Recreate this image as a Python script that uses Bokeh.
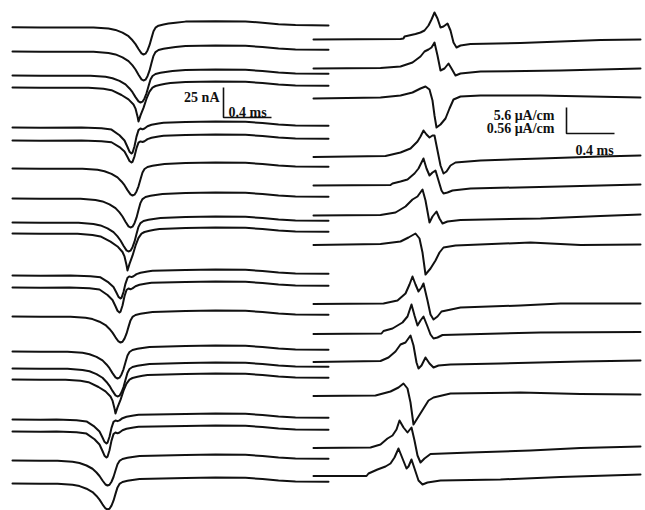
from bokeh.plotting import figure
from bokeh.models import Range1d
from bokeh.core.properties import value
from bokeh.embed import file_html
from bokeh.resources import INLINE

# ---------------- data ----------------
# time in samples (48 samples = 0.4 ms); amplitude in display units
# left panel: 25 nA = 30 units ; right panel: 5.6 uA/cm = 26 units
L_BASE = [26.7, 51, 75, 87, 127, 140, 168, 198, 222, 233,
          275, 287, 316, 351, 368, 379, 419, 431, 460, 483]
L_DIP_T = [143, 143, 140, 138, 131, 131, 132, 130, 128, 127,
           120, 119, 120, 117, 117, 115, 106, 106, 107, 107]
L_DIP_Y = [54, 80, 102, 121, 153, 162, 195, 227, 251, 270,
           298, 312, 342, 378, 396, 413, 443, 457, 485, 509]
L_SHAPE = ["plain", "plain", "plain", "shoulder", "notch", "notch", "plain", "plain", "plain", "shoulder",
           "notch", "notch", "plain", "plain", "plain", "shoulder", "notch", "notch", "plain", "plain"]
L_OVERSHOOT = 6.0
L_T0, L_T1 = 12, 328

# dip templates: offset (samples), depth fraction, overshoot fraction
TPL_DT = {
    "plain":    [-50, -35, -28, -21, -15, -11, -8, -5, -2, 0, 2, 4, 6, 8, 10, 12, 15, 20, 25, 32],
    "shoulder": [-50, -35, -27, -17, -10, -5, -3, -1, 0, 2, 5, 8, 11, 14, 17, 22, 27, 32],
    "notch":    [-50, -30, -20, -12, -7, -4, -2, 0, 1, 3, 5, 7, 9, 11, 13, 16, 20, 27, 32],
}
TPL_FRAC = {
    "plain":    [0.01, 0.05, 0.1, 0.2, 0.33, 0.48, 0.62, 0.8, 0.96, 1.0, 0.97, 0.85, 0.66, 0.4, 0.15, 0.04, 0, 0, 0, 0],
    "shoulder": [0.01, 0.04, 0.08, 0.22, 0.35, 0.5, 0.62, 0.85, 1.0, 0.82, 0.6, 0.33, 0.12, 0.02, 0, 0, 0, 0],
    "notch":    [0.0, 0.03, 0.08, 0.3, 0.5, 0.75, 0.93, 1.0, 0.97, 0.72, 0.35, 0.1, 0.04, 0.07, 0.06, 0.02, 0, 0, 0],
}
TPL_OVER = {
    "plain":    [0, 0, 0, 0, 0, 0, 0, 0, 0, 0, 0, 0, 0, 0, 0, 0.1, 0.25, 0.45, 0.6, 0.75],
    "shoulder": [0, 0, 0, 0, 0, 0, 0, 0, 0, 0, 0, 0, 0, 0.1, 0.25, 0.45, 0.62, 0.75],
    "notch":    [0, 0, 0, 0, 0, 0, 0, 0, 0, 0, 0, 0, 0, 0, 0.1, 0.3, 0.45, 0.65, 0.78],
}
TAIL_T = [185, 215, 245, 262, 278, 295, 328]
TAIL_OVER = [0.93, 1.0, 0.95, 0.75, 0.5, 0.35, 0.3]

# right panel traces (time in samples, amplitude in display units)
R_T = [
    [313, 400, 403, 404, 415, 420, 424, 428, 431, 434, 437, 440, 443, 447, 450, 453, 456, 460, 470, 520, 560, 600, 640],
    [313, 380, 400, 412, 420, 424, 428, 431, 434, 437, 440, 444, 448, 451, 455, 460, 480, 560, 640],
    [313, 380, 400, 412, 420, 425, 429, 432, 434, 436, 440, 445, 449, 453, 460, 480, 540, 640],
    [313, 385, 400, 410, 417, 420, 423, 426, 429, 432, 434, 437, 440, 443, 446, 450, 455, 480, 540, 600, 640],
    [313, 390, 392, 400, 407, 414, 418, 423, 426, 429, 432, 435, 438, 441, 443, 447, 452, 470, 560, 640],
    [313, 380, 395, 405, 412, 417, 422, 425, 429, 432, 436, 439, 442, 447, 460, 540, 600, 640],
    [313, 380, 400, 408, 415, 419, 422, 425, 430, 435, 439, 443, 455, 530, 580, 640],
    [313, 383, 397, 405, 409, 412, 415, 418, 421, 423, 427, 430, 433, 437, 441, 460, 520, 560, 640],
    [313, 381, 383, 392, 402, 407, 411, 414, 417, 420, 423, 427, 430, 433, 437, 442, 480, 540, 640],
    [313, 380, 388, 395, 400, 405, 410, 413, 416, 418, 421, 425, 429, 433, 438, 450, 500, 580, 640],
    [313, 375, 390, 398, 403, 407, 410, 413, 418, 423, 428, 433, 450, 520, 580, 640],
    [313, 370, 380, 387, 392, 396, 399, 403, 407, 411, 414, 417, 420, 424, 430, 470, 530, 580, 640],
    [313, 366, 368, 377, 385, 390, 394, 398, 402, 406, 408, 411, 414, 418, 422, 427, 440, 500, 560, 640],
]
R_Y = [
    [39, 38.5, 38, 36, 33.5, 32, 30, 25, 19, 12, 18, 27, 26, 23, 30, 42, 47, 45, 43.5, 42.5, 41, 39.5, 39],
    [68, 67.5, 66, 62, 56, 51, 49, 47, 42, 55, 70, 68, 63, 68, 75, 73, 71, 70, 68],
    [98, 97, 95, 92, 88, 86, 89, 100, 115, 127, 124, 118, 108, 99, 96, 95, 95, 97],
    [156.5, 155.5, 152, 148, 141, 136, 130, 134, 137, 135, 135, 150, 165, 173, 171, 165, 162, 160, 158, 156, 155],
    [185, 184.5, 183, 181, 179, 173, 168, 158, 168, 175, 172, 170, 180, 190, 193, 192, 190, 188, 186, 184],
    [215, 214.5, 212, 206, 199, 196, 189, 200, 222, 216, 211, 218, 223, 221, 219.5, 218, 215.5, 214],
    [244.5, 243.5, 241, 237, 233, 238, 252, 274, 268, 260, 252, 247, 245, 242, 244.5, 244],
    [303.5, 303, 300, 293, 284, 276, 284, 291, 287, 283, 300, 314, 319, 316, 311, 307, 305, 303, 303],
    [333.5, 333, 330.5, 328, 322, 316, 304, 315, 325, 320, 316, 326, 334, 338, 337, 334.5, 333.5, 332, 331.5],
    [361.5, 360.5, 357, 351, 344, 342, 335, 345, 362, 368, 365, 357, 363, 367, 365, 364, 363, 361, 360],
    [395.5, 395, 391, 387, 383, 388, 402, 424, 416, 408, 400, 397, 393, 392, 393.5, 394],
    [447.5, 447, 444, 438, 435, 429, 420, 427, 432, 427, 440, 455, 462, 458, 453.5, 452, 450, 447.5, 446],
    [475.5, 475.5, 473, 469, 466, 463, 457, 448, 458, 468, 466, 459, 468, 480, 484, 482, 480, 479, 476.5, 474],
]

# scale bars
SB_L_NA, SB_L_UNITS = 25, 30          # 25 nA
SB_R_UNITS = 26                       # 5.6 / 0.56 uA/cm
SB_MS, SB_SAMPLES = 0.4, 48           # 0.4 ms
SB_L_ORIGIN = (223, 87)
SB_R_ORIGIN = (566, 107)
SB_LABELS_L = ["25 nA", "0.4 ms"]
SB_LABELS_R = ["5.6 \u03bcA/cm", "0.56 \u03bcA/cm", "0.4 ms"]

# ---------------- build traces ----------------
xs, ys = [], []
for base, dt, dy, shape in zip(L_BASE, L_DIP_T, L_DIP_Y, L_SHAPE):
    depth = dy - base
    tx = [L_T0, L_T0 + 28]
    ty = [base, base + 0.3]
    for o, f, ov in zip(TPL_DT[shape], TPL_FRAC[shape], TPL_OVER[shape]):
        tx.append(dt + o)
        ty.append(base + depth * f - L_OVERSHOOT * ov)
    for t, ov in zip(TAIL_T, TAIL_OVER):
        if t > tx[-1]:
            tx.append(t)
            ty.append(base - L_OVERSHOOT * ov)
    xs.append(tx)
    ys.append(ty)

for t, y in zip(R_T, R_Y):
    xs.append(t)
    ys.append(y)

p = figure(width=645, height=510, x_range=Range1d(0, 645), y_range=Range1d(510, 0),
           x_axis_type=None, y_axis_type=None, output_backend="svg",
           toolbar_location=None, min_border=0)
p.grid.visible = False
p.outline_line_color = None
p.background_fill_color = "white"
p.border_fill_color = "white"

p.multi_line(xs, ys, line_color="#111111", line_width=2.0, line_join="round", line_cap="round")

# left scale bar
x0, y0 = SB_L_ORIGIN
p.line([x0, x0, x0 + SB_SAMPLES], [y0, y0 + SB_L_UNITS, y0 + SB_L_UNITS], line_color="#111111", line_width=1.6)
# right scale bar
x1, y1 = SB_R_ORIGIN
p.line([x1, x1, x1 + SB_SAMPLES], [y1, y1 + SB_R_UNITS, y1 + SB_R_UNITS], line_color="#111111", line_width=1.6)

font = value("Liberation Serif")
common = dict(text_font=font, text_font_style="bold", text_font_size="14px",
              text_color="#111111", text_baseline="alphabetic")
p.text(x=[x0 - 4], y=[y0 + 10], text=[SB_LABELS_L[0]], text_align="right", **common)
p.text(x=[x0 + 5], y=[y0 + 25], text=[SB_LABELS_L[1]], text_align="left", **common)
p.text(x=[x1 - 12, x1 - 12], y=[y1 + 8, y1 + 21], text=SB_LABELS_R[:2], text_align="right", **common)
p.text(x=[x1 + 9], y=[y1 + 43], text=[SB_LABELS_R[2]], text_align="left", **common)

open("out.html", "w").write(file_html(p, INLINE))
